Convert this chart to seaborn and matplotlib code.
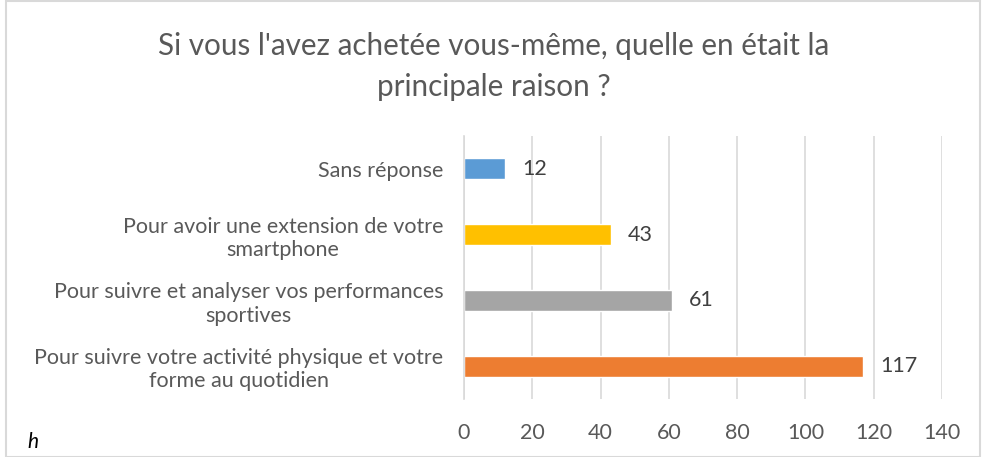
import pandas as pd
import seaborn as sns
import matplotlib.pyplot as plt
from matplotlib.patches import Rectangle

# Data
categories = [
    "Sans réponse",
    "Pour avoir une extension de votre\nsmartphone",
    "Pour suivre et analyser vos performances\nsportives",
    "Pour suivre votre activité physique et votre\nforme au quotidien",
]
counts = [12, 43, 61, 117]
colors = ["#5B9BD5", "#FFC000", "#A5A5A5", "#ED7D31"]
xticks = [0, 20, 40, 60, 80, 100, 120, 140]
title = "Si vous l'avez achetée vous-même, quelle en était la\nprincipale raison ?"

df = pd.DataFrame({"cat": categories, "n": counts})

sns.set_theme(style="white")
plt.rcParams["font.family"] = ["Lato", "DejaVu Sans"]
text_col = "#595959"
grid_col = "#D9D9D9"

fig = plt.figure(figsize=(9.82, 4.57), dpi=100)
ax = fig.add_axes([0.4725, 0.127, 0.4868, 0.5755])

sns.barplot(
    data=df,
    x="n",
    y="cat",
    hue="cat",
    palette=dict(zip(categories, colors)),
    order=categories,
    orient="h",
    width=0.32,
    saturation=1,
    legend=False,
    ax=ax,
)

for i, v in enumerate(counts):
    ax.text(v + 5, i, str(v), va="center", ha="left", fontsize=15.5, color="#404040")

ax.set_xlim(0, 140)
ax.set_xticks(xticks)
ax.set_ylim(3.5, -0.5)
ax.xaxis.grid(True, color=grid_col, linewidth=1.2)
ax.set_axisbelow(True)
ax.set(xlabel="", ylabel="")
ax.tick_params(axis="x", length=0, labelsize=15.5, colors=text_col, pad=17)
ax.tick_params(axis="y", length=0, labelsize=15.5, colors=text_col, pad=15)
for lab in ax.get_yticklabels():
    lab.set_multialignment("center")
    lab.set_linespacing(1.2)
for s in ["top", "right", "bottom"]:
    ax.spines[s].set_visible(False)
ax.spines["left"].set_color(grid_col)
ax.spines["left"].set_linewidth(1.2)
ax.set_yticks([-0.5, 0.5, 1.5, 2.5, 3.5], minor=True)
ax.tick_params(axis="y", which="minor", length=5, color=grid_col, width=1.2, direction="out")

fig.text(0.503, 0.855, title, ha="center", va="center", fontsize=21.3, color=text_col, linespacing=1.55)
fig.text(0.028, 0.02, "h", fontsize=15, style="italic", color="black")
fig.patches.append(Rectangle((0.006, 0.0), 0.992, 0.998, transform=fig.transFigure,
                             fill=False, edgecolor=grid_col, linewidth=1.5))

fig.savefig("out.png", dpi=100)
